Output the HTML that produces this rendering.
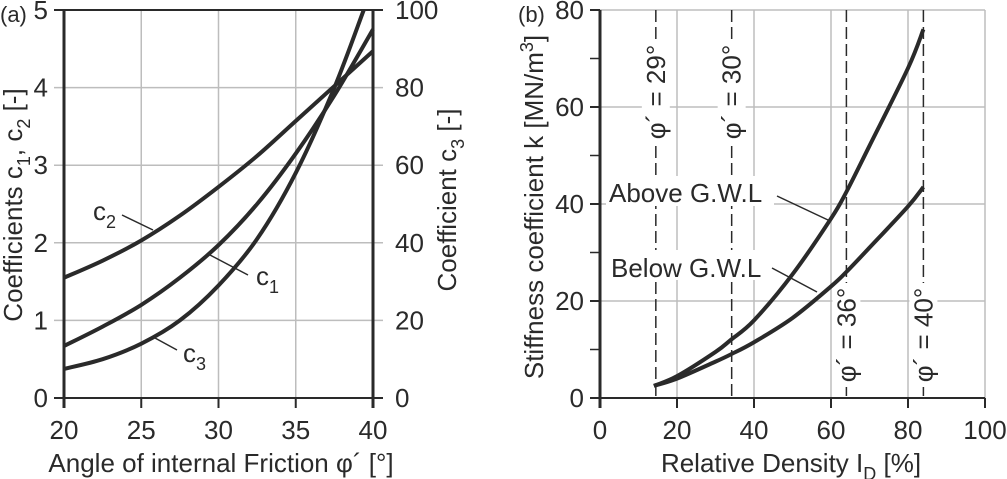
<!DOCTYPE html>
<html><head><meta charset="utf-8"><style>
body{margin:0;background:#fff;}
svg{display:block;font-family:"Liberation Sans",sans-serif;}
text{fill:#2a2a2a;}
</style></head><body>
<svg id="chart" width="1007" height="479" viewBox="0 0 1007 479" xmlns="http://www.w3.org/2000/svg"></svg>
<script>
// ---- Chart (a) data ----
const phiA = [20, 22.5, 25, 27.5, 30, 32.5, 35, 37.5, 40];
const c1Vals = [0.67, 0.92, 1.2, 1.55, 1.97, 2.5, 3.15, 3.9, 4.75];
const c2Vals = [1.55, 1.77, 2.03, 2.35, 2.72, 3.12, 3.57, 4.02, 4.47];
const phiC3 = [20, 22.5, 25, 27.5, 30, 32.5, 35, 37.5, 39.4];
const c3Vals = [7.5, 10, 14, 20, 29, 41, 58, 80, 100];
const xTicksA = [20, 25, 30, 35, 40];
const yTicksA = [0, 1, 2, 3, 4, 5];
const yTicksA2 = [0, 20, 40, 60, 80, 100];
// ---- Chart (b) data ----
const idVals = [14, 20, 30, 34, 40, 50, 60, 64, 70, 80, 84];
const aboveVals = [2.5, 4.5, 9.5, 12, 16, 25.5, 37, 42.5, 52, 68, 76];
const belowVals = [2.5, 4, 7.5, 9, 11.5, 16.5, 23, 26, 31, 39.5, 43.5];
const xTicksB = [0, 20, 40, 60, 80, 100];
const yTicksB = [0, 20, 40, 60, 80];
const phiLinesID = [14.5, 34.2, 64, 84];
const phiLineLabels = ["29°", "30°", "36°", "40°"];

const NS = "http://www.w3.org/2000/svg";
const svg = document.getElementById('chart');
function mk(tag, attrs, parent){const e=document.createElementNS(NS,tag);for(const k in attrs)e.setAttribute(k,attrs[k]);(parent||svg).appendChild(e);return e;}
const INK = "#2a2a2a", GRID = "#bdbdbd";
const FS = 26;

const xA = v => 64 + (v-20)/20*309;
const yA = v => 398 - v/5*388;
const yA2 = v => 398 - v/100*388;
const xB = v => 600 + v/100*385;
const yB = v => 398 - v/80*388;

// ---- (a) grid ----
xTicksA.slice(1,-1).forEach(t=>{
  const g=mk('line',{x1:xA(t),x2:xA(t),y1:yA(5),y2:yA(0),stroke:GRID,'stroke-width':1.5});
  
  
});
yTicksA.forEach(t=>{
  const g=mk('line',{x1:xA(20)-10,x2:xA(40)+10,y1:yA(t),y2:yA(t),stroke:t===0||t===5?INK:GRID,'stroke-width':t===0||t===5?2:1.5});
  
  
  const l=mk('text',{x:xA(20)-16,y:yA(t)+9,'font-size':FS,'text-anchor':'end'});l.textContent=t;
  
  
});
yTicksA2.forEach(t=>{
  const l=mk('text',{x:xA(40)+22,y:yA2(t)+9,'font-size':FS,'text-anchor':'start'});l.textContent=t;
  
  
});
mk('line',{x1:xA(20),x2:xA(20),y1:yA(5),y2:yA(0)+10,stroke:INK,'stroke-width':3});
mk('line',{x1:xA(40),x2:xA(40),y1:yA(5),y2:yA(0)+10,stroke:INK,'stroke-width':3});
xTicksA.forEach(t=>{
  mk('line',{x1:xA(t),x2:xA(t),y1:yA(0),y2:yA(0)+10,stroke:INK,'stroke-width':2});
  const l=mk('text',{x:xA(t),y:yA(0)+41,'font-size':FS,'text-anchor':'middle'});l.textContent=t;
  
  
});
function path(xs, ys, fx, fy, name){
  const P=xs.map((x,i)=>[fx(x),fy(ys[i])]);
  let d='M'+P[0][0]+','+P[0][1];
  for(let i=0;i<P.length-1;i++){
    const p0=P[Math.max(0,i-1)],p1=P[i],p2=P[i+1],p3=P[Math.min(P.length-1,i+2)];
    d+=' C'+(p1[0]+(p2[0]-p0[0])/6)+','+(p1[1]+(p2[1]-p0[1])/6)+' '+(p2[0]-(p3[0]-p1[0])/6)+','+(p2[1]-(p3[1]-p1[1])/6)+' '+p2[0]+','+p2[1];
  }
  const e=mk('path',{d:d,fill:'none',stroke:INK,'stroke-width':4});
  
  
}
path(phiA,c2Vals,xA,yA,'c2-curve');
path(phiA,c1Vals,xA,yA,'c1-curve');
path(phiC3,c3Vals,xA,yA2,'c3-curve');
function line(x1,y1,x2,y2){mk('line',{x1,y1,x2,y2,stroke:INK,'stroke-width':1.5});}
line(122,215,153,230); line(210,255,248,275); line(155,338,177,350);
function lab(x,y,main,sub,name){
  const t=mk('text',{x:x,y:y,'font-size':FS});
  t.innerHTML=main+'<tspan dy="8" font-size="18">'+sub+'</tspan>';
  
  
}
lab(93,220,'c','2','c2-label'); lab(256,285,'c','1','c1-label'); lab(183,362,'c','3','c3-label');
let t=mk('text',{x:0,y:22,'font-size':22});t.textContent='(a)';
t=mk('text',{x:221,y:472,'font-size':FS,'text-anchor':'middle'});t.textContent='Angle of internal Friction φ´ [°]';
t=mk('text',{transform:'translate(22,205) rotate(-90)','font-size':FS,'text-anchor':'middle'});
t.innerHTML='Coefficients c<tspan dy="8" font-size="18">1</tspan><tspan dy="-8">, c</tspan><tspan dy="8" font-size="18">2</tspan><tspan dy="-8"> [-]</tspan>';

t=mk('text',{transform:'translate(456,200) rotate(-90)','font-size':FS,'text-anchor':'middle'});
t.innerHTML='Coefficient c<tspan dy="8" font-size="18">3</tspan><tspan dy="-8"> [-]</tspan>';


// ---- (b) ----
xTicksB.slice(1).forEach(v=>{
  mk('line',{x1:xB(v),x2:xB(v),y1:yB(80),y2:yB(0),stroke:GRID,'stroke-width':1.5});
});
yTicksB.forEach(v=>{
  mk('line',{x1:xB(0)-10,x2:xB(100),y1:yB(v),y2:yB(v),stroke:v===0?INK:GRID,'stroke-width':v===0?2:1.5});
  mk('line',{x1:xB(0)-10,x2:xB(0),y1:yB(v),y2:yB(v),stroke:INK,'stroke-width':2});
  const l=mk('text',{x:xB(0)-16,y:yB(v)+9,'font-size':FS,'text-anchor':'end'});l.textContent=v;
  
});
[10,30,50,70].forEach(v=>mk('line',{x1:xB(0)-10,x2:xB(0),y1:yB(v),y2:yB(v),stroke:INK,'stroke-width':1.5}));
mk('line',{x1:xB(0),x2:xB(0),y1:yB(80),y2:yB(0)+10,stroke:INK,'stroke-width':3});
xTicksB.forEach(v=>{
  mk('line',{x1:xB(v),x2:xB(v),y1:yB(0),y2:yB(0)+10,stroke:INK,'stroke-width':2});
  const l=mk('text',{x:xB(v),y:yB(0)+41,'font-size':FS,'text-anchor':'middle'});l.textContent=v;
  
});
phiLinesID.forEach((v,i)=>{
  const e=mk('line',{x1:xB(v),x2:xB(v),y1:yB(80),y2:yB(0),stroke:INK,'stroke-width':1.5,'stroke-dasharray':'12,5'});
  
  
  const cy=i<2?92:335;
  mk('rect',{x:xB(v)-14,y:cy-52,width:28,height:104,fill:'#fff'});
  const l=mk('text',{transform:`translate(${xB(v)+9},${cy}) rotate(-90)`,'font-size':FS,'text-anchor':'middle'});
  l.textContent='φ´ = '+phiLineLabels[i];
  
  
});
path(idVals,aboveVals,xB,yB,'above-gwl-curve');
path(idVals,belowVals,xB,yB,'below-gwl-curve');
mk('rect',{x:606,y:176,width:168,height:30,fill:'#fff'});
mk('rect',{x:606,y:250,width:166,height:30,fill:'#fff'});
line(777,196,828,220); line(772,268,817,292);
t=mk('text',{x:609,y:202,'font-size':FS});t.textContent='Above G.W.L';
t=mk('text',{x:611,y:277,'font-size':FS});t.textContent='Below G.W.L';
t=mk('text',{x:518,y:22,'font-size':22});t.textContent='(b)';
t=mk('text',{x:791,y:472,'font-size':FS,'text-anchor':'middle'});
t.innerHTML='Relative Density I<tspan dy="8" font-size="18">D</tspan><tspan dy="-8"> [%]</tspan>';

t=mk('text',{transform:'translate(543,207) rotate(-90)','font-size':FS,'text-anchor':'middle'});
t.innerHTML='Stiffness coefficient k [MN/m<tspan dy="-10" font-size="18">3</tspan><tspan dy="10">]</tspan>';

</script>
</body></html>
